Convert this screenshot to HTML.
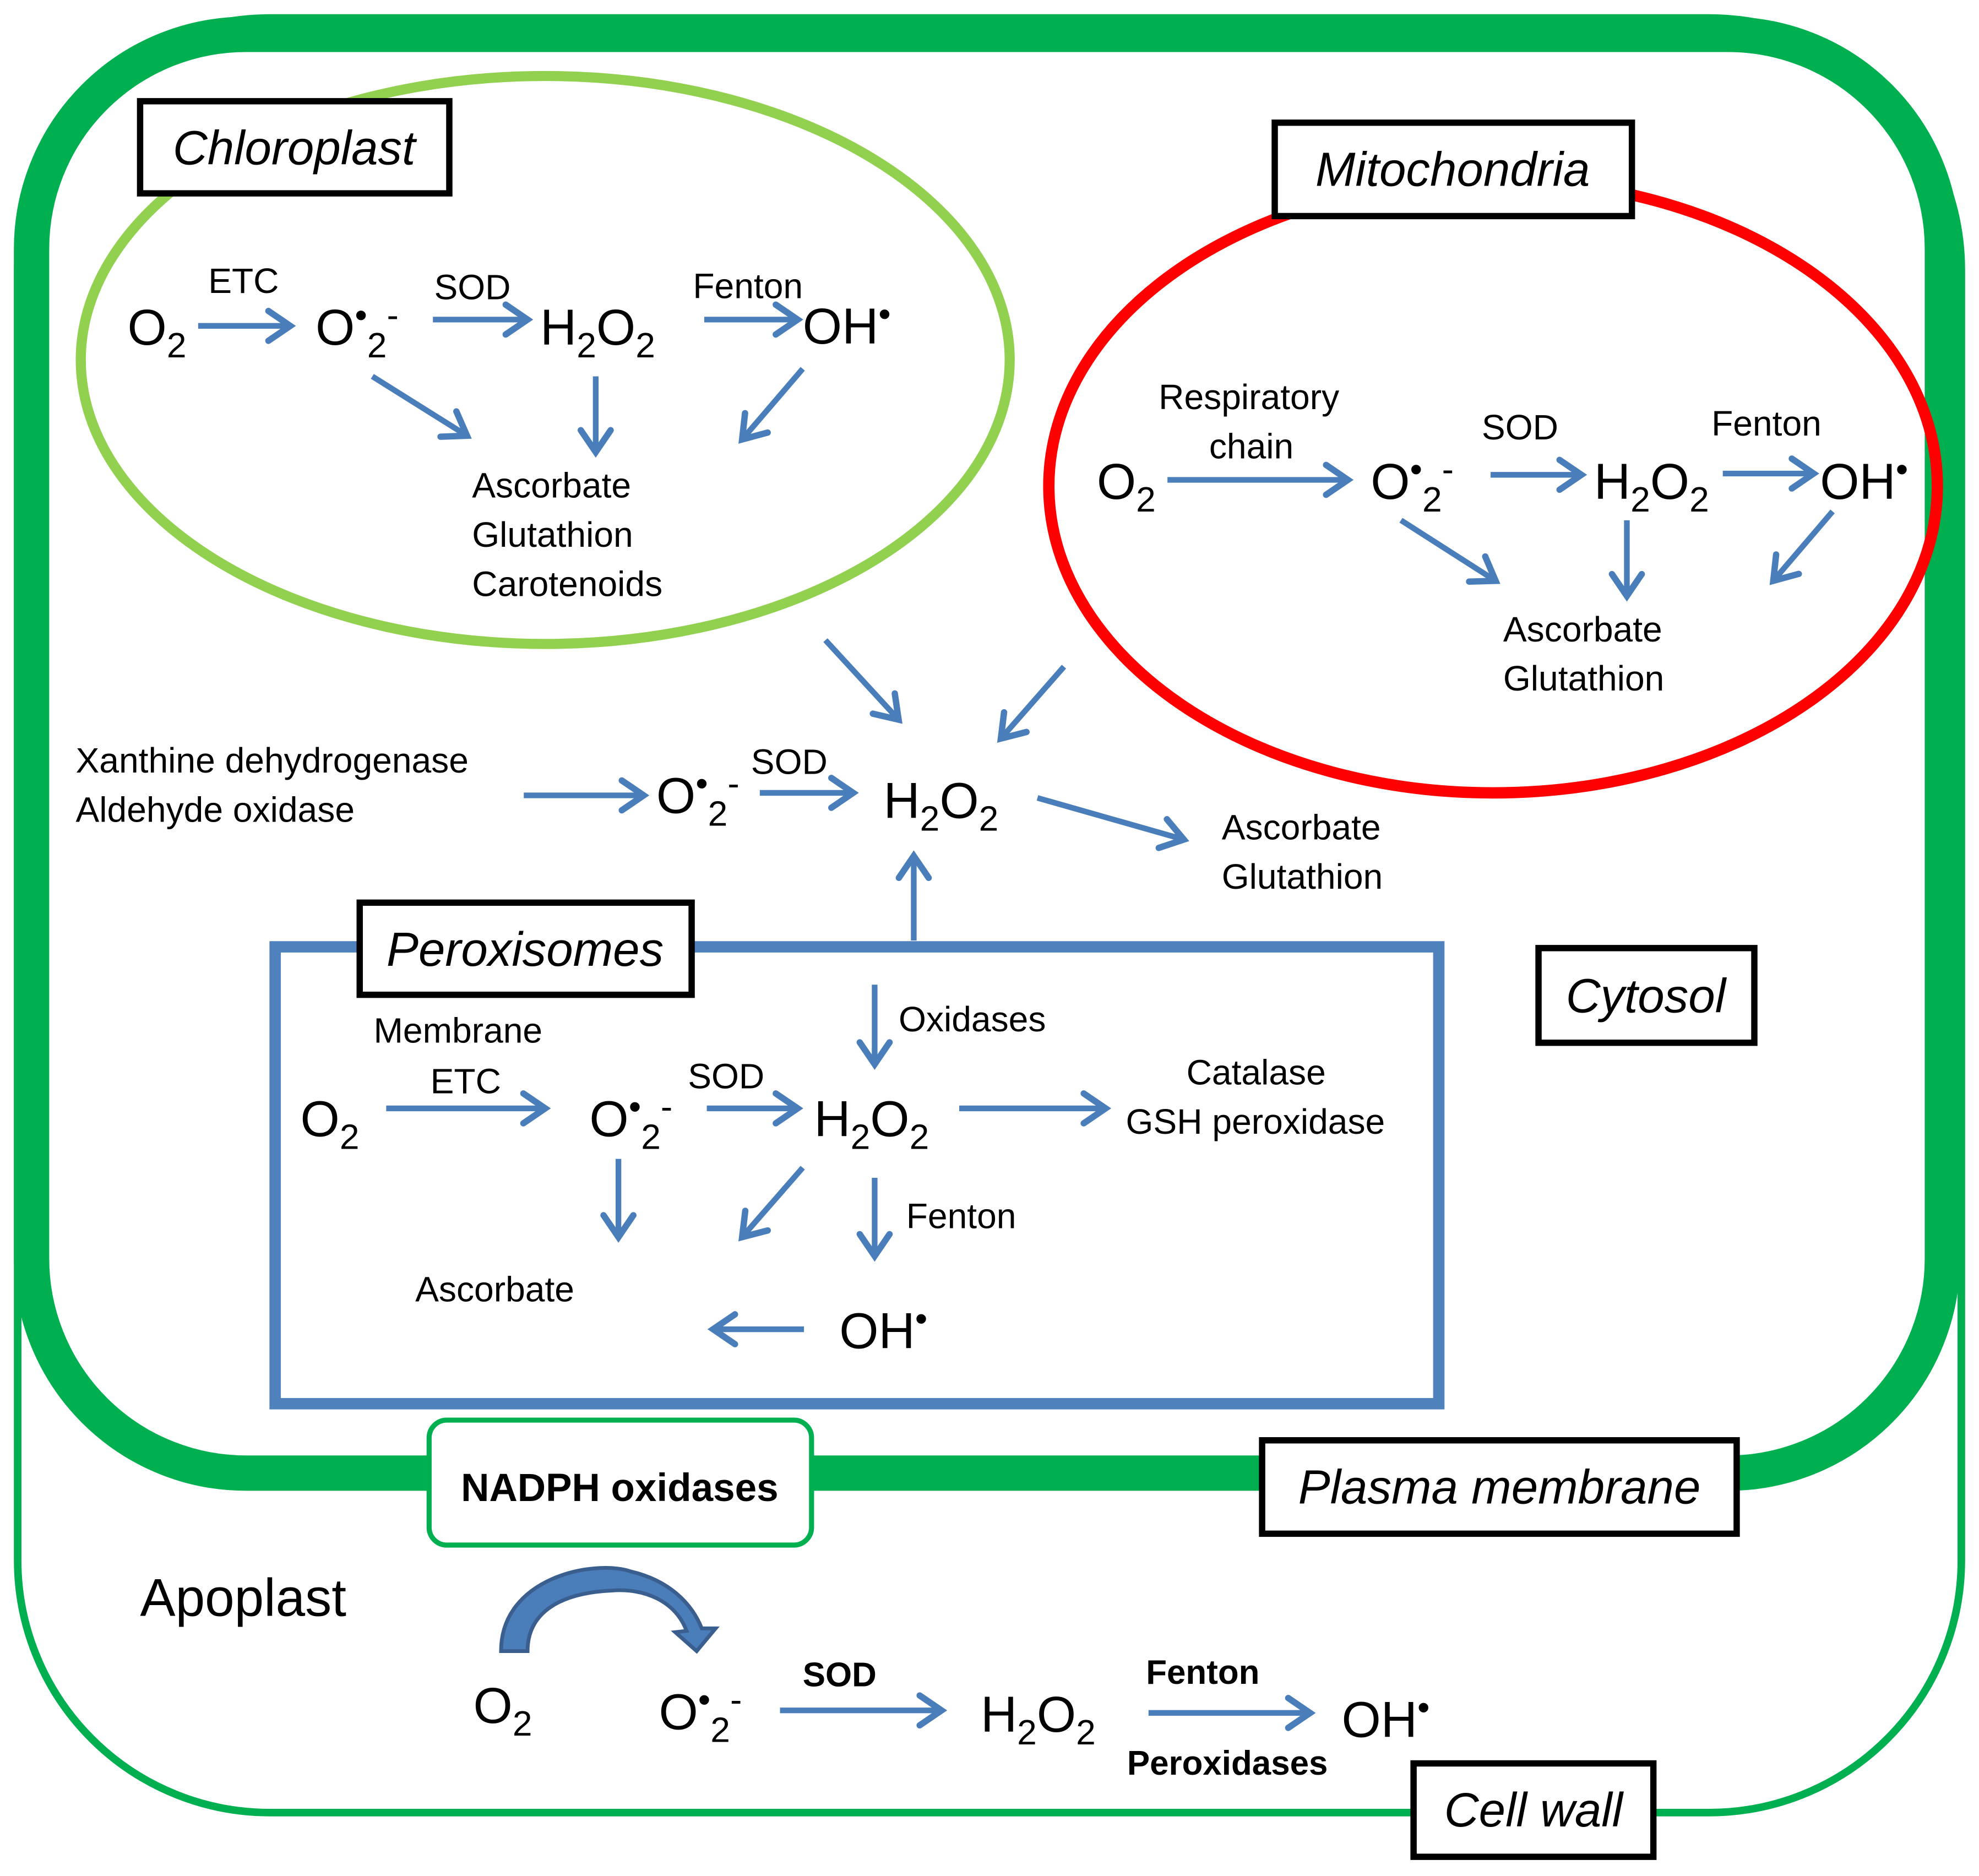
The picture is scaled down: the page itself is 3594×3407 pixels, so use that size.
<!DOCTYPE html>
<html><head><meta charset="utf-8"><style>html,body{margin:0;padding:0;background:#fff}svg{display:block}</style></head>
<body>
<svg width="3594" height="3407" viewBox="0 0 1568 1486" xmlns="http://www.w3.org/2000/svg" font-family="'Liberation Sans', sans-serif">
<defs>
<marker id="a" viewBox="0 0 20 20" refX="15" refY="10" markerWidth="7" markerHeight="7" orient="auto" markerUnits="strokeWidth">
<path d="M4,2.5 L15,10 L4,17.5" fill="none" stroke="#4a7ebb" stroke-width="3.2" stroke-linecap="round" stroke-linejoin="miter"/>
</marker>
</defs>
<rect width="1568" height="1486" fill="#fff"/>
<rect x="14" y="14" width="1540" height="1422" rx="200" fill="none" stroke="#00b050" stroke-width="6"/>
<rect x="25" y="27" width="1514" height="1140" rx="170" fill="#fff" stroke="#00b050" stroke-width="28"/>
<ellipse cx="432" cy="285" rx="368" ry="225" fill="none" stroke="#92d050" stroke-width="8"/>
<ellipse cx="1183" cy="385" rx="352" ry="243" fill="none" stroke="#ff0000" stroke-width="9"/>
<rect x="218" y="750" width="922" height="362" fill="none" stroke="#4f81bd" stroke-width="9"/>

<g stroke="#4a7ebb" stroke-width="4.5" fill="none" marker-end="url(#a)">
<line x1="157" y1="258" x2="230" y2="258"/>
<line x1="343" y1="253" x2="418" y2="253"/>
<line x1="558" y1="253" x2="632" y2="253"/>
<line x1="295" y1="298" x2="370" y2="345"/>
<line x1="472" y1="298" x2="472" y2="358"/>
<line x1="636" y1="292" x2="588" y2="348"/>
<line x1="925" y1="380" x2="1068" y2="380"/>
<line x1="1181" y1="376" x2="1253" y2="376"/>
<line x1="1365" y1="375" x2="1437" y2="375"/>
<line x1="1110" y1="412" x2="1185" y2="460"/>
<line x1="1289" y1="412" x2="1289" y2="472"/>
<line x1="1452" y1="405" x2="1405" y2="460"/>
<line x1="654" y1="507" x2="712" y2="570"/>
<line x1="843" y1="528" x2="793" y2="585"/>
<line x1="415" y1="630" x2="510" y2="630"/>
<line x1="602" y1="628" x2="676" y2="628"/>
<line x1="822" y1="632" x2="938" y2="665"/>
<line x1="724" y1="745" x2="724" y2="678"/>
<line x1="306" y1="878" x2="432" y2="878"/>
<line x1="560" y1="878" x2="632" y2="878"/>
<line x1="760" y1="878" x2="876" y2="878"/>
<line x1="693" y1="780" x2="693" y2="843"/>
<line x1="490" y1="918" x2="490" y2="980"/>
<line x1="636" y1="925" x2="588" y2="980"/>
<line x1="693" y1="933" x2="693" y2="995"/>
<line x1="637" y1="1053" x2="565" y2="1053"/>
<line x1="618" y1="1355" x2="746" y2="1355"/>
<line x1="910" y1="1357" x2="1038" y2="1357"/>
</g>

<path d="M397,1308 C397,1250 470,1235 500,1245 C530,1252 548,1270 556,1290 L567,1290 L552,1308 L535,1293 L544,1292 C535,1268 510,1258 485,1260 C440,1262 418,1280 418,1308 Z" fill="#4a7ebb" stroke="#3a5f8f" stroke-width="3"/>

<g fill="#fff" stroke="#000" stroke-width="5">
<rect x="111" y="80" width="245" height="73"/>
<rect x="1010" y="97" width="283" height="74"/>
<rect x="285" y="715" width="263" height="73"/>
<rect x="1219" y="751" width="171" height="75"/>
<rect x="1000" y="1141" width="376" height="74"/>
<rect x="1120" y="1397" width="190" height="74"/>
</g>
<rect x="340" y="1125" width="303" height="99" rx="14" fill="#fff" stroke="#00b050" stroke-width="4"/>

<g font-style="italic" font-size="38" text-anchor="middle" fill="#000">
<text x="233" y="130">Chloroplast</text>
<text x="1151" y="147">Mitochondria</text>
<text x="416" y="765">Peroxisomes</text>
<text x="1304" y="802">Cytosol</text>
<text x="1188" y="1191">Plasma membrane</text>
<text x="1215" y="1447">Cell wall</text>
</g>
<text x="491" y="1189" font-size="31" font-weight="bold" text-anchor="middle">NADPH oxidases</text>
<text x="111" y="1280" font-size="42">Apoplast</text>

<g font-size="28" fill="#000">
<text x="165" y="232">ETC</text>
<text x="344" y="237">SOD</text>
<text x="549" y="236">Fenton</text>
<text x="374" y="394">Ascorbate</text>
<text x="374" y="433">Glutathion</text>
<text x="374" y="472">Carotenoids</text>
<text x="918" y="324">Respiratory</text>
<text x="958" y="363">chain</text>
<text x="1174" y="348">SOD</text>
<text x="1356" y="345">Fenton</text>
<text x="1191" y="508">Ascorbate</text>
<text x="1191" y="547">Glutathion</text>
<text x="60" y="612">Xanthine dehydrogenase</text>
<text x="60" y="651">Aldehyde oxidase</text>
<text x="595" y="613">SOD</text>
<text x="968" y="665">Ascorbate</text>
<text x="968" y="704">Glutathion</text>
<text x="296" y="826">Membrane</text>
<text x="341" y="866">ETC</text>
<text x="545" y="862">SOD</text>
<text x="712" y="817">Oxidases</text>
<text x="940" y="859">Catalase</text>
<text x="892" y="898">GSH peroxidase</text>
<text x="718" y="973">Fenton</text>
<text x="329" y="1031">Ascorbate</text>
</g>
<g font-size="27" font-weight="bold">
<text x="636" y="1336">SOD</text>
<text x="908" y="1334">Fenton</text>
<text x="893" y="1406">Peroxidases</text>
</g>

<g font-size="40" fill="#000">
<text x="101" y="273">O<tspan font-size="28" dy="10">2</tspan></text>
<text x="250" y="273">O<tspan font-size="28" dy="-14">•</tspan><tspan font-size="28" dy="24">2</tspan><tspan font-size="28" dy="-24">-</tspan></text>
<text x="428" y="273">H<tspan font-size="28" dy="10">2</tspan><tspan dy="-10">O</tspan><tspan font-size="28" dy="10">2</tspan></text>
<text x="636" y="272">OH<tspan font-size="28" dy="-14">•</tspan></text>

<text x="869" y="395">O<tspan font-size="28" dy="10">2</tspan></text>
<text x="1086" y="395">O<tspan font-size="28" dy="-14">•</tspan><tspan font-size="28" dy="24">2</tspan><tspan font-size="28" dy="-24">-</tspan></text>
<text x="1263" y="395">H<tspan font-size="28" dy="10">2</tspan><tspan dy="-10">O</tspan><tspan font-size="28" dy="10">2</tspan></text>
<text x="1442" y="395">OH<tspan font-size="28" dy="-14">•</tspan></text>

<text x="520" y="644">O<tspan font-size="28" dy="-14">•</tspan><tspan font-size="28" dy="24">2</tspan><tspan font-size="28" dy="-24">-</tspan></text>
<text x="700" y="648">H<tspan font-size="28" dy="10">2</tspan><tspan dy="-10">O</tspan><tspan font-size="28" dy="10">2</tspan></text>

<text x="238" y="900">O<tspan font-size="28" dy="10">2</tspan></text>
<text x="467" y="900">O<tspan font-size="28" dy="-14">•</tspan><tspan font-size="28" dy="24">2</tspan><tspan font-size="28" dy="-24">-</tspan></text>
<text x="645" y="900">H<tspan font-size="28" dy="10">2</tspan><tspan dy="-10">O</tspan><tspan font-size="28" dy="10">2</tspan></text>
<text x="665" y="1068">OH<tspan font-size="28" dy="-14">•</tspan></text>

<text x="375" y="1365">O<tspan font-size="28" dy="10">2</tspan></text>
<text x="522" y="1370">O<tspan font-size="28" dy="-14">•</tspan><tspan font-size="28" dy="24">2</tspan><tspan font-size="28" dy="-24">-</tspan></text>
<text x="777" y="1372">H<tspan font-size="28" dy="10">2</tspan><tspan dy="-10">O</tspan><tspan font-size="28" dy="10">2</tspan></text>
<text x="1063" y="1376">OH<tspan font-size="28" dy="-14">•</tspan></text>
</g>
</svg>
</body></html>
